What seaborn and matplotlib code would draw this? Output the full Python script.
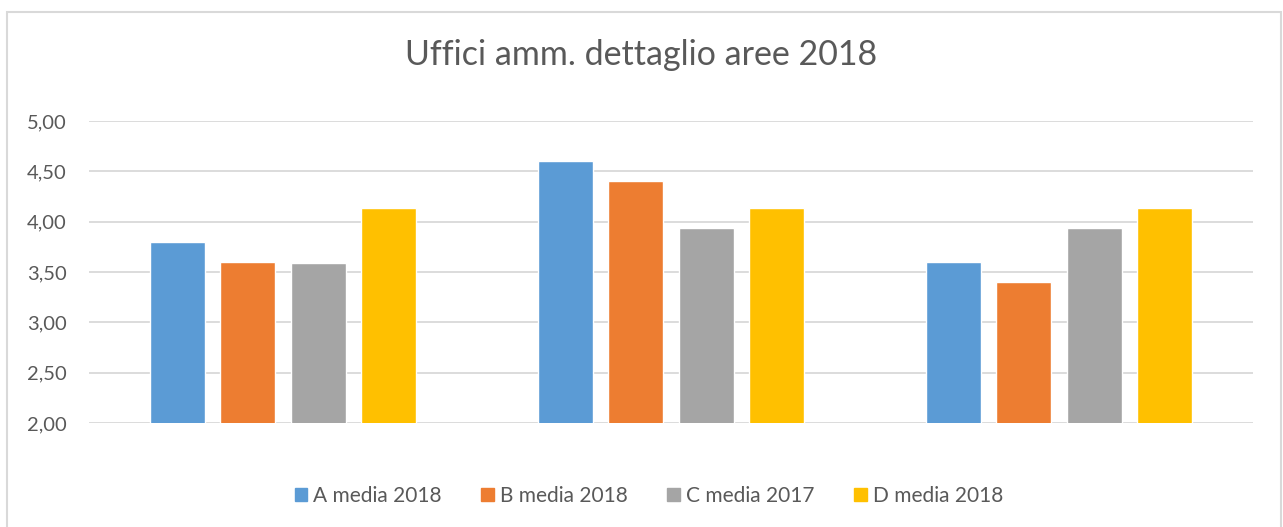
import matplotlib
matplotlib.use("Agg")
import matplotlib.pyplot as plt
import matplotlib.patches as mpatches
from matplotlib.ticker import FuncFormatter, MultipleLocator
import pandas as pd
import seaborn as sns

# dati
gruppi = ["Gruppo 1", "Gruppo 2", "Gruppo 3"]
serie = ["A media 2018", "B media 2018", "C media 2017", "D media 2018"]
a_media_2018 = [3.80, 4.60, 3.60]
b_media_2018 = [3.60, 4.40, 3.40]
c_media_2017 = [3.59, 3.94, 3.94]
d_media_2018 = [4.14, 4.14, 4.14]
colori = ["#5B9BD5", "#ED7D31", "#A5A5A5", "#FFC000"]

valori = [a_media_2018, b_media_2018, c_media_2017, d_media_2018]
df = pd.DataFrame(
    [(g, s, v) for s, vals in zip(serie, valori) for g, v in zip(gruppi, vals)],
    columns=["gruppo", "serie", "valore"],
)

sns.set_style("white")
plt.rcParams["font.family"] = ["Lato", "DejaVu Sans"]

W, H = 1283, 527
fig = plt.figure(figsize=(W / 100, H / 100), dpi=100)
ax = fig.add_axes([89 / W, 1 - 423 / H, (1253 - 89) / W, (423 - 121) / H])

sns.barplot(data=df, x="gruppo", y="valore", hue="serie", palette=colori,
            saturation=1, width=0.725, gap=0.218, ax=ax, legend=True)

ax.set_ylim(2, 5)
ax.yaxis.set_major_locator(MultipleLocator(0.5))
ax.yaxis.set_major_formatter(FuncFormatter(lambda v, p: f"{v:.2f}".replace(".", ",")))
ax.grid(axis="y", color="#D9D9D9", linewidth=1.3)
ax.set_axisbelow(True)
for s in ax.spines.values():
    s.set_visible(False)
ax.set_xticks([])
ax.set_xlabel("")
ax.set_ylabel("")
ax.tick_params(axis="y", length=0, labelsize=14.5, labelcolor="#595959", pad=16)

fig.text(0.5, 1 - 55 / H, "Uffici amm. dettaglio aree 2018", ha="center", va="center",
         fontsize=24.5, color="#595959")

# legenda in basso, leggermente a sinistra del centro degli assi
handles = [mpatches.Patch(color=c) for c in colori]
ax.legend(handles, serie, loc="center", bbox_to_anchor=(0.481, (423 - 496) / (423 - 121)),
          ncol=4, frameon=False, fontsize=15, labelcolor="#595959",
          handlelength=0.6, handleheight=0.6, handletextpad=0.3, columnspacing=1.9)

fig.patches.append(mpatches.Rectangle((6.5 / W, -0.05), (1281 - 6.5) / W, 1.05 - 11.5 / H,
                                      transform=fig.transFigure, fill=False,
                                      edgecolor="#D9D9D9", linewidth=1.5))

fig.savefig("out.png", dpi=100)
